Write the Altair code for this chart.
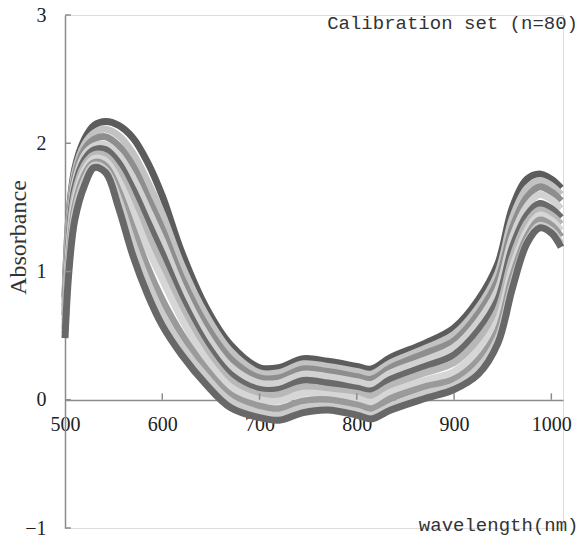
import altair as alt
import pandas as pd

# wavelength grid (nm)
wavelengths = [500, 504, 510, 520, 530, 542, 555, 570, 585, 600, 620, 645, 670, 700, 720,
               745, 770, 800, 815, 835, 870, 900, 925, 945, 960, 975, 988, 1000, 1010]

# absorbance spectra (top to bottom)
c0 = [0.80, 1.43, 1.80, 2.03, 2.14, 2.17, 2.14, 2.04, 1.85, 1.59, 1.15, 0.72, 0.43, 0.25, 0.25,
      0.32, 0.30, 0.26, 0.24, 0.33, 0.44, 0.56, 0.78, 1.06, 1.50, 1.72, 1.76, 1.72, 1.65]
c1 = [0.78, 1.40, 1.77, 1.99, 2.08, 2.11, 2.06, 1.92, 1.70, 1.45, 1.05, 0.66, 0.38, 0.21, 0.21,
      0.28, 0.26, 0.22, 0.20, 0.29, 0.40, 0.51, 0.72, 0.99, 1.42, 1.65, 1.71, 1.67, 1.60]
c2 = [0.73, 1.35, 1.73, 1.95, 2.03, 2.05, 1.98, 1.82, 1.58, 1.33, 0.95, 0.58, 0.32, 0.17, 0.17,
      0.24, 0.22, 0.18, 0.16, 0.25, 0.36, 0.46, 0.67, 0.93, 1.34, 1.58, 1.66, 1.62, 1.55]
c3 = [0.70, 1.30, 1.69, 1.91, 1.98, 1.99, 1.91, 1.73, 1.49, 1.24, 0.87, 0.51, 0.26, 0.13, 0.13,
      0.20, 0.18, 0.14, 0.12, 0.21, 0.31, 0.41, 0.61, 0.86, 1.27, 1.51, 1.60, 1.56, 1.49]
c4 = [0.66, 1.25, 1.65, 1.87, 1.95, 1.95, 1.85, 1.64, 1.39, 1.14, 0.79, 0.44, 0.20, 0.08, 0.08,
      0.15, 0.13, 0.09, 0.07, 0.16, 0.26, 0.35, 0.54, 0.78, 1.19, 1.44, 1.53, 1.49, 1.42]
c5 = [0.62, 1.20, 1.60, 1.83, 1.91, 1.90, 1.78, 1.55, 1.29, 1.04, 0.71, 0.38, 0.15, 0.04, 0.04,
      0.10, 0.08, 0.05, 0.03, 0.11, 0.21, 0.29, 0.47, 0.70, 1.11, 1.38, 1.48, 1.44, 1.37]
c6 = [0.58, 1.15, 1.55, 1.79, 1.88, 1.86, 1.71, 1.46, 1.18, 0.94, 0.63, 0.32, 0.10, 0.00, -0.01,
      0.05, 0.04, 0.01, -0.02, 0.06, 0.15, 0.22, 0.39, 0.62, 1.03, 1.32, 1.44, 1.40, 1.32]
c7 = [0.55, 1.10, 1.50, 1.75, 1.85, 1.82, 1.63, 1.33, 1.03, 0.78, 0.51, 0.24, 0.04, -0.05, -0.07,
      -0.01, 0.00, -0.04, -0.07, 0.01, 0.10, 0.16, 0.31, 0.54, 0.96, 1.27, 1.40, 1.36, 1.27]
c8 = [0.52, 1.05, 1.45, 1.71, 1.83, 1.79, 1.57, 1.22, 0.92, 0.67, 0.42, 0.18, -0.01, -0.10, -0.12,
      -0.06, -0.05, -0.09, -0.12, -0.05, 0.05, 0.11, 0.25, 0.48, 0.90, 1.23, 1.36, 1.32, 1.22]
c9 = [0.48, 1.00, 1.40, 1.67, 1.81, 1.77, 1.50, 1.12, 0.82, 0.58, 0.35, 0.12, -0.06, -0.14, -0.16,
      -0.10, -0.08, -0.12, -0.15, -0.08, 0.01, 0.08, 0.20, 0.44, 0.87, 1.22, 1.34, 1.30, 1.19]

spectra = [c0, c1, c2, c3, c4, c5, c6, c7, c8, c9]
series_names = ["s0", "s1", "s2", "s3", "s4", "s5", "s6", "s7", "s8", "s9"]
series_colors = ["#5c5c5c", "#c2c2c2", "#8e8e8e", "#d2d2d2", "#6a6a6a",
                 "#b8b8b8", "#d6d6d6", "#9a9a9a", "#cbcbcb", "#686868"]

y_ticks = [-1, 0, 1, 2, 3]
x_ticks = [600, 700, 800, 900, 1000]
panel_label = "Calibration set (n=80)"

rows = []
for name, vals in zip(series_names, spectra):
    for w, v in zip(wavelengths, vals):
        rows.append({"wl": w, "abs": v, "s": name})
df = pd.DataFrame(rows)

serif = "Liberation Serif"
mono = "Liberation Mono"
axis_gray = "#8c8c8c"

xscale = alt.Scale(domain=[500, 1012], nice=False, zero=False)
yscale = alt.Scale(domain=[-1, 3], nice=False, zero=False)

lines = alt.Chart(df).mark_line(strokeWidth=7, interpolate="catmull-rom").encode(
    x=alt.X("wl:Q", scale=xscale,
            axis=alt.Axis(values=[500, 600, 700, 800, 900, 1000], offset=-128,
                          ticks=False, grid=False, domainColor=axis_gray, domainWidth=1.5,
                          labelFont=serif, labelFontSize=20, labelColor="#222",
                          labelPadding=14, labelFlush=False, format="d",
                          title="wavelength(nm)", titleFont=mono, titleFontSize=19,
                          titleFontWeight="normal", titleColor="#333",
                          titleAlign="right", titleBaseline="middle",
                          titleX=513, titleY=124, titleAnchor="end")),
    y=alt.Y("abs:Q", scale=yscale,
            axis=alt.Axis(values=y_ticks, ticks=False, grid=False,
                          domainColor=axis_gray, domainWidth=1.5,
                          labelFont=serif, labelFontSize=20, labelColor="#222",
                          labelPadding=19, labelFlush=False, format="d",
                          title="Absorbance", titleFont=serif, titleFontSize=24,
                          titleFontWeight="normal", titleColor="#333",
                          titleAngle=270, titleAlign="center", titleBaseline="middle",
                          titleX=-47, titleY=222)),
    color=alt.Color("s:N", scale=alt.Scale(domain=series_names, range=series_colors),
                    legend=None),
)

ytick_df = pd.DataFrame({"v": y_ticks, "x0": [500] * len(y_ticks), "x1": [506] * len(y_ticks)})
yticks = alt.Chart(ytick_df).mark_rule(color=axis_gray, strokeWidth=1.5).encode(
    x=alt.X("x0:Q", scale=xscale), x2="x1:Q", y=alt.Y("v:Q", scale=yscale))

xtick_df = pd.DataFrame({"v": x_ticks, "y0": [0] * len(x_ticks), "y1": [0.05] * len(x_ticks)})
xticks = alt.Chart(xtick_df).mark_rule(color=axis_gray, strokeWidth=1.5).encode(
    x=alt.X("v:Q", scale=xscale), y=alt.Y("y0:Q", scale=yscale), y2="y1:Q")

label = alt.Chart(pd.DataFrame({"t": [panel_label]})).mark_text(
    align="right", baseline="middle", font=mono, fontSize=19, color="#333"
).encode(x=alt.value(513), y=alt.value(8), text="t:N")

chart = alt.layer(lines, yticks, xticks, label).properties(
    width=498, height=513,
    autosize=alt.AutoSizeParams(type="none"),
    padding={"left": 65, "top": 15, "right": 18, "bottom": 9},
).configure_view(stroke=None).configure(background="white")

chart.save("out.html", embed_options={"renderer": "svg", "actions": False})
